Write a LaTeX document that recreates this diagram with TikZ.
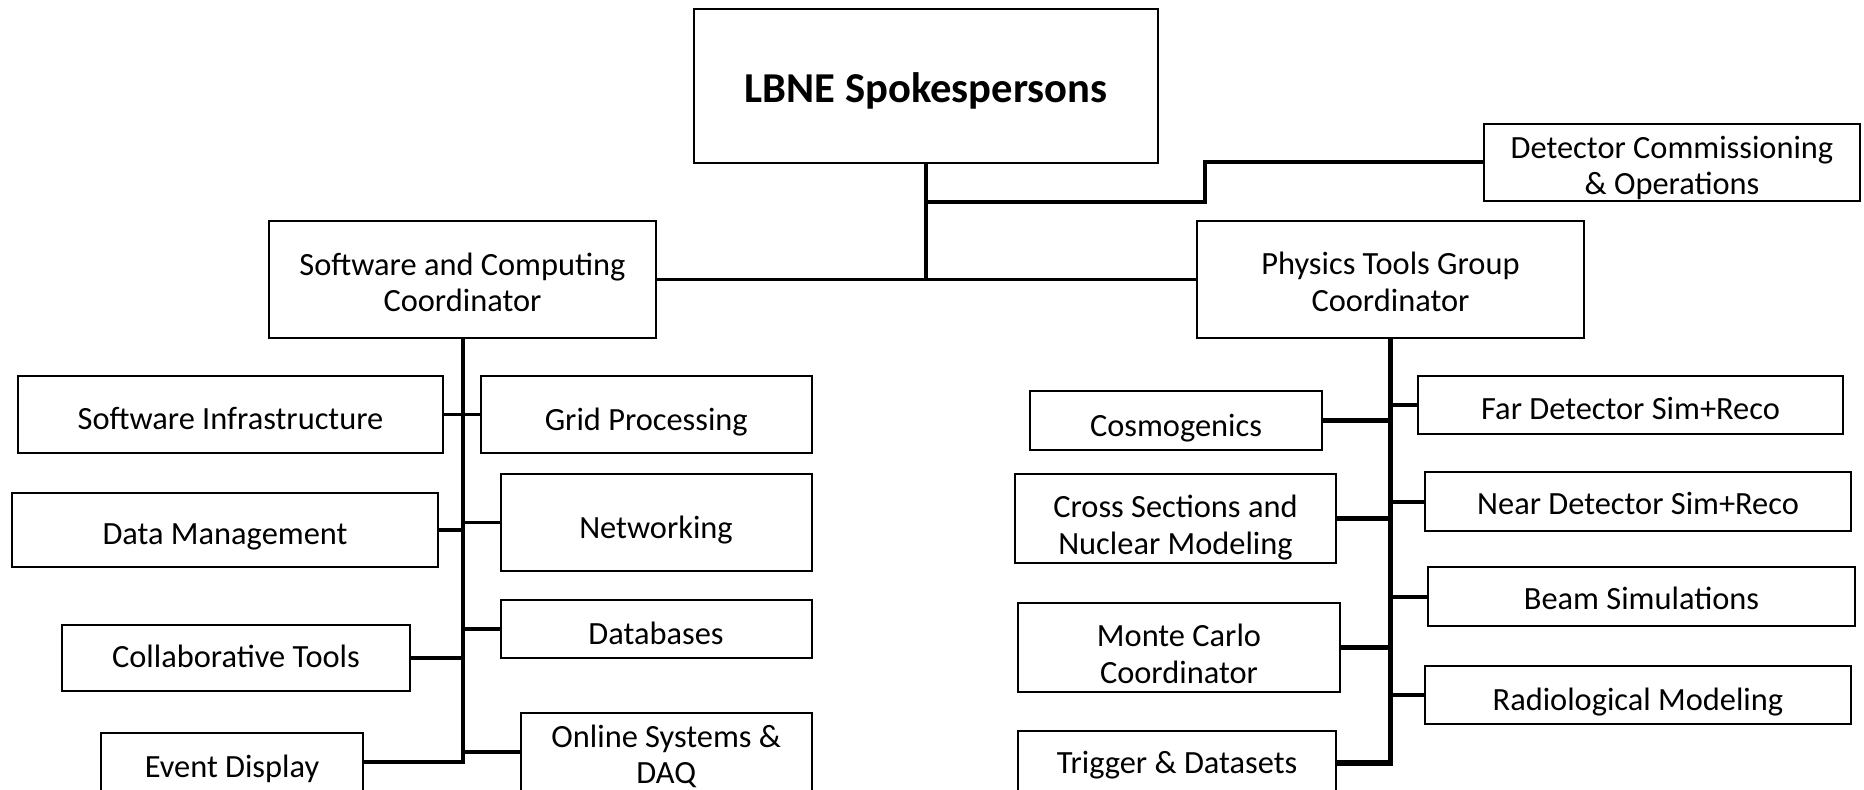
\documentclass[tikz,border=0pt]{standalone}
\usepackage{fontspec}
\setmainfont{Carlito}
\newcommand\mytxt[2]{\raisebox{-#1}[\height][\depth]{\begin{tabular}{@{}c@{}}#2\end{tabular}}}
\begin{document}
\begin{tikzpicture}[x=0.5pt,y=-0.5pt,
  box/.style n args={2}{draw, line width=1pt, inner sep=0pt,
    minimum width=#1, minimum height=#2, font=\fontsize{16.2}{18.25}\selectfont},
  conn/.style={line width=1.6pt, line cap=rect},
  mainln/.style={line width=1.6pt},
  pconn/.style={line width=2.5pt},
  prconn/.style={line width=2pt}]
\useasboundingbox (0,0) rectangle (1864,789);
\clip (0,0) rectangle (1864,789);
\fill[white] (0,0) rectangle (1864,789);
% top level
\node[box={232pt}{77pt}, font=\bfseries\fontsize{21.3}{24}\selectfont] (lbne) at (926,86) {\mytxt{3.6pt}{LBNE Spokespersons}};
\node[box={188pt}{38.5pt}] (det) at (1672,162) {\mytxt{3.6pt}{Detector Commissioning\\\& Operations}};
\node[box={193.5pt}{58.5pt}] (swc) at (462.5,279.5) {\mytxt{3.3pt}{Software and Computing\\Coordinator}};
\node[box={193.5pt}{58.5pt}] (phys) at (1390.5,279.5) {\mytxt{3pt}{Physics Tools Group\\Coordinator}};
% software side
\node[box={212.5pt}{38.5pt}] (swinfra) at (230.5,414.5) {\mytxt{3.6pt}{Software Infrastructure}};
\node[box={165.25pt}{38.5pt}] (grid) at (646.25,414.5) {\mytxt{4.2pt}{Grid Processing}};
\node[box={213pt}{37pt}] (datam) at (225,530) {\mytxt{3.6pt}{Data Management}};
\node[box={155.5pt}{48.5pt}] (netw) at (656,522.5) {\mytxt{4.2pt}{Networking}};
\node[box={155.5pt}{29pt}] (dbs) at (656,629) {\mytxt{4.2pt}{Databases}};
\node[box={174pt}{33pt}] (collab) at (236,658) {\mytxt{1.2pt}{Collaborative Tools}};
\node[box={131pt}{29pt}] (event) at (232,762) {\mytxt{4.2pt}{Event Display}};
\node[box={145.25pt}{39.3pt}] (online) at (666.25,752) {\mytxt{3pt}{Online Systems \&\\DAQ}};
% physics side
\node[box={146pt}{29.5pt}] (cosmo) at (1176,420.5) {\mytxt{4.2pt}{Cosmogenics}};
\node[box={160.5pt}{44.5pt}] (cross) at (1175.5,518.5) {\mytxt{5.1pt}{Cross Sections and\\Nuclear Modeling}};
\node[box={161pt}{44.5pt}] (monte) at (1179,647.5) {\mytxt{5.1pt}{Monte Carlo\\Coordinator}};
\node[box={159pt}{32.3pt}] (trigger) at (1177,763) {\mytxt{1.8pt}{Trigger \& Datasets}};
\node[box={212.5pt}{29pt}] (far) at (1630.5,405) {\mytxt{3.6pt}{Far Detector Sim+Reco}};
\node[box={213pt}{29.5pt}] (near) at (1638,501.5) {\mytxt{3pt}{Near Detector Sim+Reco}};
\node[box={213.5pt}{29.5pt}] (beam) at (1641.5,596.5) {\mytxt{3pt}{Beam Simulations}};
\node[box={213pt}{29pt}] (radio) at (1638,695) {\mytxt{4.2pt}{Radiological Modeling}};
% top connectors
\coordinate (dstep) at (1205,201.7);
\draw[mainln] (lbne.south) -- (lbne.south |- swc.east);
\draw[mainln] (swc.east) -- (phys.west);
\draw[line width=2pt] (lbne.south |- dstep) -- (dstep) |- (det.west);
% software connectors
\draw[line width=2pt] (swc.south) |- (event.east);
\foreach \n in {swinfra,datam,collab}
  \draw[conn] (\n.east) -- (\n.east -| swc.south);
\foreach \n in {grid,netw,dbs,online}
  \draw[conn] (\n.west) -- (\n.west -| swc.south);
% physics connectors
\draw[line width=2.8pt] (phys.south) |- (trigger.east);
\foreach \n in {cosmo,cross,monte}
  \draw[pconn] (\n.east) -- (\n.east -| phys.south);
\foreach \n in {far,near,beam,radio}
  \draw[prconn] (\n.west) -- (\n.west -| phys.south);
\end{tikzpicture}
\end{document}
